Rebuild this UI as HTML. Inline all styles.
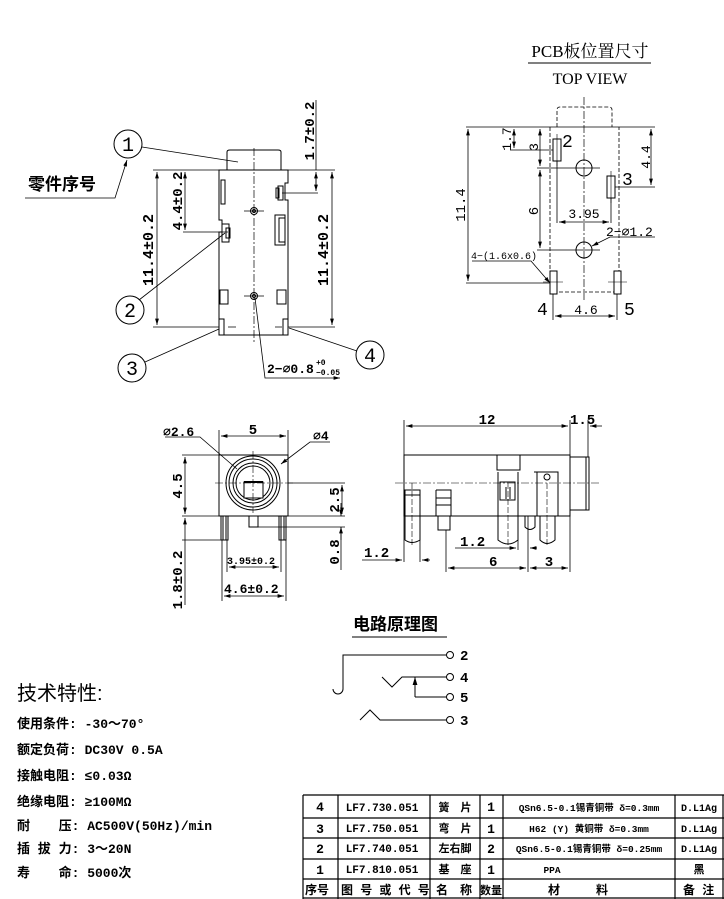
<!DOCTYPE html>
<html><head><meta charset="utf-8"><style>
html,body{margin:0;padding:0;background:#fff}
svg{display:block}
text{font-family:"Liberation Mono","Noto Sans CJK SC",monospace;fill:#000;stroke:none}
.b{font-weight:bold}
.s{font-family:"Liberation Sans","Noto Sans CJK SC",sans-serif}
.r{font-family:"Liberation Serif","Noto Serif CJK SC",serif}
</style></head><body>
<svg width="724" height="899" viewBox="0 0 724 899" xmlns="http://www.w3.org/2000/svg" stroke="#000" fill="none" stroke-width="1">
<defs>
<marker id="a" viewBox="0 0 10 6" refX="10" refY="3" markerWidth="8" markerHeight="5" orient="auto-start-reverse"><path d="M0,0L10,3L0,6z" fill="#000" stroke="none"/></marker>
</defs>

<!-- ===== Left top view ===== -->
<path d="M227,170 V152 Q227,150 230,150 H278 Q281,150 281,152 V170"/>
<path d="M219,170 H288 V183 H285 V200 H288 V335 H219 V232 H222 V220 H219 Z"/>
<rect x="221" y="180" width="4" height="24"/>
<rect x="278" y="186" width="5" height="14"/><rect x="276" y="188" width="3" height="10"/>
<rect x="275" y="215" width="10" height="30"/><rect x="279" y="218" width="6" height="24"/>
<rect x="222" y="224" width="7" height="18"/><rect x="226" y="228" width="4" height="10"/>
<rect x="220" y="290" width="8" height="14"/><rect x="277" y="290" width="9" height="14"/>
<rect x="219" y="319" width="5" height="16"/><rect x="283" y="319" width="5" height="16"/>
<circle cx="254" cy="211" r="3.5"/><circle cx="254" cy="211" r="1.5"/>
<circle cx="254" cy="296" r="3.5"/><circle cx="254" cy="296" r="1.5"/>
<path d="M244,211H264M244,296H264M228,327H236M275,327H282" stroke-width="0.8"/>
<path d="M254,148V342" stroke-dasharray="8,2,2,2" stroke-width="0.7"/>
<path d="M153,170H335M153,327H219M288,327H335M183,232H228M282,193H318" stroke-width="0.8"/>
<path d="M157,172V325" marker-start="url(#a)" marker-end="url(#a)" stroke-width="0.8"/>
<path d="M185,172V230" marker-start="url(#a)" marker-end="url(#a)" stroke-width="0.8"/>
<path d="M332,172V325" marker-start="url(#a)" marker-end="url(#a)" stroke-width="0.8"/>
<path d="M316,100V170M316,190V175" stroke-width="0.8"/>
<path d="M316,172V191" marker-start="url(#a)" marker-end="url(#a)" stroke-width="0.8"/>
<text transform="translate(153,250) rotate(-90)" text-anchor="middle" font-size="15" class="b">11.4±0.2</text>
<text transform="translate(182,201) rotate(-90)" text-anchor="middle" font-size="14" class="b">4.4±0.2</text>
<text transform="translate(328,250) rotate(-90)" text-anchor="middle" font-size="15" class="b">11.4±0.2</text>
<text transform="translate(314,131) rotate(-90)" text-anchor="middle" font-size="14" class="b">1.7±0.2</text>
<circle cx="128" cy="144" r="14"/><text x="128" y="151" text-anchor="middle" font-size="20" font-family="Liberation Serif">1</text>
<circle cx="130" cy="310" r="14"/><text x="130" y="317" text-anchor="middle" font-size="20" font-family="Liberation Serif">2</text>
<circle cx="132" cy="368" r="14"/><text x="132" y="375" text-anchor="middle" font-size="20" font-family="Liberation Sans">3</text>
<circle cx="370" cy="355" r="14"/><text x="370" y="362" text-anchor="middle" font-size="20" font-family="Liberation Serif">4</text>
<path d="M142,147L238,162M139,300L225,233M145,362L219,329M357,351L289,328M255,298L265,378H340" marker-end="url(#a)" stroke-width="0.8"/>
<text x="28" y="190" font-size="17" class="s b">零件序号</text>
<path d="M25,198H115L127,160" marker-end="url(#a)" stroke-width="0.8"/>
<text x="267" y="373" font-size="13" class="b">2−⌀0.8</text>
<text x="316" y="365" font-size="8" class="b">+0</text>
<text x="316" y="375" font-size="8" class="b">−0.05</text>

<!-- ===== Top right PCB view ===== -->
<text x="590" y="57" text-anchor="middle" font-size="17" class="r">PCB板位置尺寸</text>
<path d="M528,63H651"/>
<text x="590" y="84" text-anchor="middle" font-size="16" class="r">TOP VIEW</text>
<g stroke-dasharray="4,2" stroke-width="0.8">
<path d="M557,127V110Q557,107 560,107H609Q612,107 612,110V127"/>
<path d="M550,127V292H619V127"/>
</g>
<path d="M584,97V300" stroke-dasharray="8,2,2,2" stroke-width="0.7"/>
<path d="M466,127H655M466,283H552M510,150H553M537,168H600M537,250H600M607,187H655M557,161V223M611,198V223" stroke-width="0.8"/>
<rect x="553" y="139" width="8" height="22" fill="#fff"/><path d="M557,134V166" stroke-width="0.6"/>
<rect x="607" y="176" width="8" height="22" fill="#fff"/><path d="M611,171V203" stroke-width="0.6"/>
<rect x="550" y="271" width="7" height="23" fill="#fff"/><rect x="614" y="271" width="7" height="23" fill="#fff"/>
<path d="M543,282H563M608,282H627" stroke-width="0.6"/>
<circle cx="584" cy="168" r="8"/><circle cx="584" cy="250" r="8"/>
<path d="M468,129V281" marker-start="url(#a)" marker-end="url(#a)" stroke-width="0.8"/>
<path d="M514,129V148" marker-start="url(#a)" marker-end="url(#a)" stroke-width="0.8"/>
<path d="M540,129V166" marker-start="url(#a)" marker-end="url(#a)" stroke-width="0.8"/>
<path d="M540,170V248" marker-start="url(#a)" marker-end="url(#a)" stroke-width="0.8"/>
<path d="M651,129V185" marker-start="url(#a)" marker-end="url(#a)" stroke-width="0.8"/>
<path d="M559,222H609" marker-start="url(#a)" marker-end="url(#a)" stroke-width="0.8"/>
<path d="M555,316H615" marker-start="url(#a)" marker-end="url(#a)" stroke-width="0.8"/>
<path d="M553,294V320M617,294V320" stroke-width="0.8"/>
<path d="M655,237H610L592,246" marker-end="url(#a)" stroke-width="0.8"/>
<path d="M472,261H531L550,283" marker-end="url(#a)" stroke-width="0.8"/>
<text transform="translate(465,205) rotate(-90)" text-anchor="middle" font-size="14">11.4</text>
<text transform="translate(511,139) rotate(-90)" text-anchor="middle" font-size="13">1.7</text>
<text transform="translate(538,147) rotate(-90)" text-anchor="middle" font-size="13">3</text>
<text transform="translate(538,211) rotate(-90)" text-anchor="middle" font-size="14">6</text>
<text transform="translate(650,157) rotate(-90)" text-anchor="middle" font-size="13">4.4</text>
<text x="584" y="218" text-anchor="middle" font-size="13">3.95</text>
<text x="586" y="314" text-anchor="middle" font-size="13">4.6</text>
<text x="606" y="236" font-size="13">2−⌀1.2</text>
<text x="471" y="259" font-size="10">4−(1.6x0.6)</text>
<text x="562" y="147" font-size="18" font-family="Liberation Sans">2</text>
<text x="622" y="185" font-size="18" font-family="Liberation Sans">3</text>
<text x="537" y="315" font-size="18" font-family="Liberation Sans">4</text>
<text x="624" y="315" font-size="18" font-family="Liberation Sans">5</text>

<!-- ===== Front view ===== -->
<rect x="219" y="455" width="69" height="61"/>
<circle cx="253" cy="483" r="27"/><circle cx="253" cy="483" r="24"/><circle cx="253" cy="483" r="20"/><circle cx="253" cy="483" r="17"/>
<rect x="244" y="482" width="19" height="16" fill="#fff"/><path d="M244,482H263" stroke-width="2"/>
<path d="M215,483H295M253,451V513" stroke-dasharray="8,2,2,2" stroke-width="0.6"/>
<rect x="221" y="516" width="7" height="24"/><path d="M223,516V540M226,516V540"/>
<rect x="279" y="516" width="7" height="24"/><path d="M281,516V540M284,516V540"/>
<rect x="249" y="516" width="9" height="11"/>
<path d="M182,455H219M182,516H345M182,540H221M288,483H345M258,527H345M227,540V572M281,540V572M222,540V601M286,540V601" stroke-width="0.8"/>
<path d="M219,430V455M288,430V455" stroke-width="0.8"/>
<path d="M221,436H286" marker-start="url(#a)" marker-end="url(#a)" stroke-width="0.8"/>
<path d="M185,457V514" marker-start="url(#a)" marker-end="url(#a)" stroke-width="0.8"/>
<path d="M342,485V514" marker-start="url(#a)" marker-end="url(#a)" stroke-width="0.8"/>
<path d="M341,540V527" marker-end="url(#a)" stroke-width="0.8"/><path d="M341,503V516" marker-end="url(#a)" stroke-width="0.8"/><path d="M341,527V570" stroke-width="0.8"/>
<path d="M185,518V605" marker-start="url(#a)" stroke-width="0.8"/>
<path d="M229,567H279" marker-start="url(#a)" marker-end="url(#a)" stroke-width="0.8"/>
<path d="M224,596H284" marker-start="url(#a)" marker-end="url(#a)" stroke-width="0.8"/>
<path d="M165,437H200L237,469M330,442H310L281,464" marker-end="url(#a)" stroke-width="0.8"/>
<text x="253" y="434" text-anchor="middle" font-size="14" class="b">5</text>
<text x="163" y="436" font-size="13" class="b">⌀2.6</text>
<text x="313" y="440" font-size="13" class="b">⌀4</text>
<text transform="translate(182,486) rotate(-90)" text-anchor="middle" font-size="14" class="b">4.5</text>
<text transform="translate(339,500) rotate(-90)" text-anchor="middle" font-size="14" class="b">2.5</text>
<text transform="translate(339,552) rotate(-90)" text-anchor="middle" font-size="14" class="b">0.8</text>
<text transform="translate(182,580) rotate(-90)" text-anchor="middle" font-size="14" class="b">1.8±0.2</text>
<text x="227" y="564" font-size="10" class="b">3.95±0.2</text>
<text x="224" y="593" font-size="13" class="b">4.6±0.2</text>

<!-- ===== Side view ===== -->
<path d="M404,455H570V516H404Z"/>
<path d="M570,457H586V510H570"/><path d="M586,457H589V510H586"/>
<path d="M395,483H600" stroke-dasharray="8,2,2,2" stroke-width="0.6"/>
<path d="M497,455V470H520V455M495,455H526"/>
<path d="M534,472H558V516M537,472V516"/><circle cx="547" cy="477" r="3"/>
<path d="M405,490H420V540Q412,545 405,540Z M405,495H420"/>
<path d="M436,490H451V516 M436,490V516 M436,498H451M436,505H451"/><rect x="438" y="516" width="12" height="14"/>
<path d="M498,472V540Q508,548 518,540V472M500,482H515V500H500Z M506,487V499M510,487V499"/>
<path d="M525,516V527Q530,532 535,527V516"/>
<path d="M540,516V540Q547,547 555,540V516"/>
<path d="M412,483V545M508,483V545M547,483V545" stroke-dasharray="6,2" stroke-width="0.6"/>
<path d="M404,420V455M570,420V455M588,420V457" stroke-width="0.8"/>
<path d="M406,426H568" marker-start="url(#a)" marker-end="url(#a)" stroke-width="0.8"/>
<path d="M602,426H590" marker-end="url(#a)" stroke-width="0.8"/>
<text x="487" y="424" text-anchor="middle" font-size="14" class="b">12</text>
<text x="570" y="424" font-size="14" class="b">1.5</text>
<path d="M404,516V562M420,540V562M446,530V572M528,516V572M570,516V572M518,540V550M528,540V550" stroke-width="0.8"/>
<path d="M362,560H402" marker-end="url(#a)" stroke-width="0.8"/><path d="M430,560H422" marker-end="url(#a)" stroke-width="0.8"/>
<path d="M455,548H516" marker-end="url(#a)" stroke-width="0.8"/><path d="M537,548H530" marker-end="url(#a)" stroke-width="0.8"/>
<path d="M448,568H526" marker-start="url(#a)" marker-end="url(#a)" stroke-width="0.8"/>
<path d="M530,568H568" marker-start="url(#a)" marker-end="url(#a)" stroke-width="0.8"/>
<text x="364" y="557" font-size="14" class="b">1.2</text>
<text x="460" y="546" font-size="14" class="b">1.2</text>
<text x="489" y="566" font-size="14" class="b">6</text>
<text x="549" y="566" text-anchor="middle" font-size="14" class="b">3</text>

<!-- ===== Schematic ===== -->
<text x="353" y="630" font-size="17" class="b s">电路原理图</text>
<path d="M352,637H447"/>
<path d="M446,655H343V689A5,5 0 0 1 333,689"/>
<path d="M382,677L392,687L402,677H446M415,697V681M415,697H446M360,720L370,710L380,720H446"/>
<path d="M415,681V677" marker-end="url(#a)"/>
<circle cx="450" cy="655" r="3.5"/><circle cx="450" cy="677" r="3.5"/><circle cx="450" cy="697" r="3.5"/><circle cx="450" cy="720" r="3.5"/>
<g font-size="14" class="b"><text x="460" y="660">2</text><text x="460" y="682">4</text><text x="460" y="702">5</text><text x="460" y="725">3</text></g>

<!-- ===== Tech specs ===== -->
<text x="17" y="700" font-size="20" class="s">技术特性:</text>
<g font-size="13" class="b">
<text x="17" y="728">使用条件: -30～70°</text>
<text x="17" y="754">额定负荷: DC30V 0.5A</text>
<text x="17" y="780">接触电阻: ≤0.03Ω</text>
<text x="17" y="806">绝缘电阻: ≥100MΩ</text>
<text x="17" y="830">耐 　 压: AC500V(50Hz)/min</text>
<text x="17" y="853">插 拔 力: 3～20N</text>
<text x="17" y="877">寿 　 命: 5000次</text>
</g>

<!-- ===== Table ===== -->
<path d="M303,795H724M303,818H724M303,838H724M303,859H724M303,879H724M303,898H724" stroke-width="1.2"/>
<path d="M303,795V899M338,795V899M430,795V899M480,795V899M503,795V899M675,795V899M723,795V899" stroke-width="1.2"/>
<g font-size="13" class="b" text-anchor="middle">
<text x="320" y="811">4</text><text x="320" y="833">3</text><text x="320" y="853">2</text><text x="320" y="874">1</text>
<text x="491" y="811">1</text><text x="491" y="833">1</text><text x="491" y="853">2</text><text x="491" y="874">1</text>
</g>
<g font-size="11" class="b" text-anchor="middle">
<text x="382" y="811">LF7.730.051</text><text x="382" y="832">LF7.750.051</text><text x="382" y="852">LF7.740.051</text><text x="382" y="873">LF7.810.051</text>
<text x="455" y="811">簧　片</text><text x="455" y="832">弯　片</text><text x="455" y="852">左右脚</text><text x="455" y="873">基　座</text>
<text x="699" y="811" font-size="10">D.L1Ag</text><text x="699" y="832" font-size="10">D.L1Ag</text><text x="699" y="852" font-size="10">D.L1Ag</text><text x="699" y="873">黑</text>
</g>
<g font-size="9.5" class="b" text-anchor="middle">
<text x="589" y="811">QSn6.5-0.1锡青铜带 δ=0.3mm</text>
<text x="589" y="832">H62 (Y) 黄铜带 δ=0.3mm</text>
<text x="589" y="852">QSn6.5-0.1锡青铜带 δ=0.25mm</text>
<text x="552" y="873">PPA</text>
</g>
<g font-size="12" class="b">
<text x="305" y="894">序号</text><text x="341" y="894">图 号 或 代 号</text><text x="436" y="894">名　称</text><text x="480" y="894" font-size="11">数量</text>
<text x="548" y="894">材　　　料</text><text x="683" y="894">备 注</text>
</g>
</svg>
</body></html>
